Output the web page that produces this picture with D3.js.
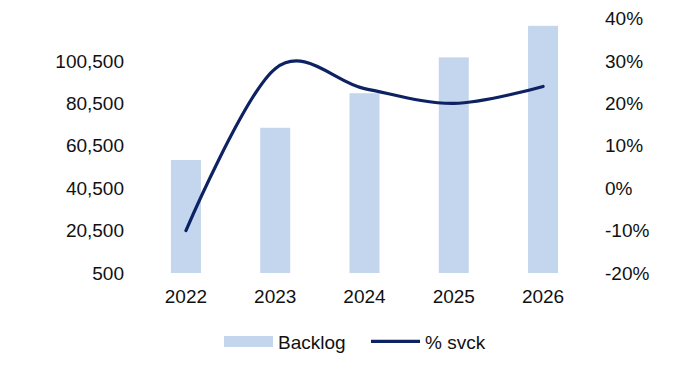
<!DOCTYPE html>
<html>
<head>
<meta charset="utf-8">
<script src="https://cdn.jsdelivr.net/npm/d3@7"></script>
<style>
  body { margin: 0; background: #fff; }
  text { font-family: "Liberation Sans", Arial, sans-serif; fill: #111; }
</style>
</head>
<body>
<div id="chart"></div>
<script>
// data
const years = ["2022", "2023", "2024", "2025", "2026"];
const backlog = [53800, 69000, 85300, 102200, 117100];
const svck = [-10, 28.2, 23.5, 20, 24];
const leftTicks = [500, 20500, 40500, 60500, 80500, 100500];
const rightTicks = [-20, -10, 0, 10, 20, 30, 40];

const width = 698, height = 367;
const plotTop = 18.6, plotBottom = 273;

const svg = d3.select("#chart")
  .append("svg")
    .attr("width", width)
    .attr("height", height);

// scales
const x = d3.scaleBand().domain(years).range([141.3, 587.7]).paddingInner(0.664).paddingOuter(0.332);
const yL = d3.scaleLinear().domain([500, 120500]).range([plotBottom, plotTop]);
const yR = d3.scaleLinear().domain([-20, 40]).range([plotBottom, plotTop]);

// bars
svg.append("g")
  .selectAll("rect")
  .data(years)
  .join("rect")
    .attr("x", d => x(d))
    .attr("width", x.bandwidth())
    .attr("y", (d, i) => yL(backlog[i]))
    .attr("height", (d, i) => yL(500) - yL(backlog[i]))
    .attr("fill", "#c3d6ee");

// smoothed line
const line = d3.line()
  .x((d, i) => x(years[i]) + x.bandwidth() / 2)
  .y(d => yR(d))
  .curve(d3.curveCatmullRom.alpha(0));

svg.append("path")
  .datum(svck)
  .attr("d", line)
  .attr("fill", "none")
  .attr("stroke", "#0c2262")
  .attr("stroke-width", 3.2)
  .attr("stroke-linecap", "round");

// left axis
const axL = svg.append("g")
  .attr("transform", "translate(124,0)")
  .call(d3.axisLeft(yL).tickValues(leftTicks).tickSize(0).tickPadding(0).tickFormat(d3.format(",")));
axL.select(".domain").remove();
axL.selectAll("text").style("font-size", "19px").attr("fill", "#111");

// right axis
const axR = svg.append("g")
  .attr("transform", "translate(605,0)")
  .call(d3.axisRight(yR).tickValues(rightTicks).tickSize(0).tickPadding(0).tickFormat(d => d + "%"));
axR.select(".domain").remove();
axR.selectAll("text").style("font-size", "19px").attr("fill", "#111");

// x axis
const axX = svg.append("g")
  .attr("transform", "translate(0," + plotBottom + ")")
  .call(d3.axisBottom(x).tickSize(0).tickPadding(17));
axX.select(".domain").remove();
axX.selectAll("text").style("font-size", "19px").attr("fill", "#111");

// legend
const legend = svg.append("g");
legend.append("rect")
  .attr("x", 224).attr("y", 336)
  .attr("width", 49).attr("height", 11)
  .attr("fill", "#c3d6ee");
legend.append("text")
  .attr("x", 278).attr("y", 348.5)
  .style("font-size", "19px")
  .text("Backlog");
legend.append("line")
  .attr("x1", 371).attr("x2", 420)
  .attr("y1", 341.3).attr("y2", 341.3)
  .attr("stroke", "#0c2262")
  .attr("stroke-width", 3.2);
legend.append("text")
  .attr("x", 425).attr("y", 348.5)
  .style("font-size", "19px")
  .text("% svck");
</script>
</body>
</html>
